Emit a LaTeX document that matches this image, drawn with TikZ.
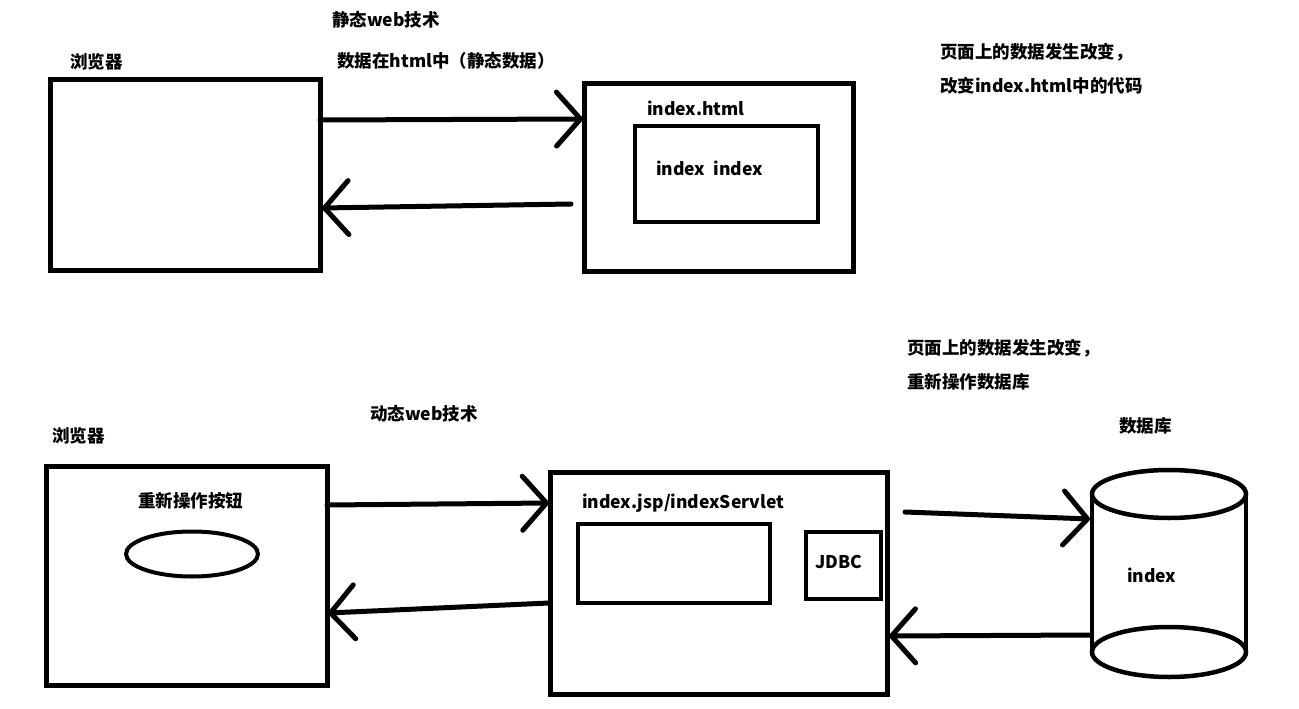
\documentclass[tikz,border=0pt]{standalone}
\usepackage{fontspec}
\setmainfont{Noto Sans CJK SC}
\usetikzlibrary{arrows.meta,shapes.geometric}
\begin{document}
\begin{tikzpicture}[x=1pt,y=-1pt,
  box/.style={draw,line width=5pt,minimum width=#1,inner sep=0pt,outer sep=0pt},
  lbl/.style={anchor=west,inner sep=0pt,font=\fontsize{17.5}{20}\selectfont\bfseries},
  arr/.style={line width=5pt,line cap=round,-{Straight Barb[length=24pt,width=54pt,line width=5pt,round]}}]
\useasboundingbox[fill=white] (0,0) rectangle (1299,709);
% --- static web ---
\node[box=270pt,minimum height=190pt] (b1) at (185,175) {};
\node[box=269pt,minimum height=187pt] (s1) at (718.5,177.5) {};
\node[box=183pt,minimum height=96pt,line width=4.5pt] (s1in) at (726.5,174) {};
\node[lbl] (t1) at (332,20) {静态web技术};
\node[lbl] (t2) at (337,61) {数据在html中（静态数据）};
\node[lbl] (t3) at (70,62) {浏览器};
\node[lbl] (t4) at (647,108) {index.html};
\node[lbl] (t5) at (656,168) {index\ \ index};
\node[lbl] (t6) at (940,52) {页面上的数据发生改变，};
\node[lbl] (t7) at (940,86) {改变index.html中的代码};
\coordinate (a1s) at (320,120); \coordinate (a1e) at (583,119);
\coordinate (a2s) at (571,204); \coordinate (a2e) at (322,208);
\draw[arr] (a1s) -- (a1e);
\draw[arr] (a2s) -- (a2e);
% --- dynamic web ---
\node[lbl] (t8) at (907,348) {页面上的数据发生改变，};
\node[lbl] (t9) at (907,382) {重新操作数据库};
\node[lbl] (t10) at (370,414) {动态web技术};
\node[lbl] (t11) at (52,436) {浏览器};
\node[box=281pt,minimum height=219pt] (b2) at (186.5,575.5) {};
\node[lbl] (t12) at (138,501) {重新操作按钮};
\node[draw,ellipse,line width=4pt,minimum width=132pt,minimum height=45pt,inner sep=0pt] (btn) at (192,554) {};
\node[box=337pt,minimum height=222pt] (s2) at (718.5,583) {};
\node[lbl] (t13) at (582,503) {index.jsp/indexServlet};
\node[box=192pt,minimum height=79pt,line width=4.5pt] (s2in) at (674,563.5) {};
\node[box=75pt,minimum height=67pt,line width=4.5pt] (jdbc) at (843.5,565.5) {};
\node[lbl,anchor=center] (t16) at (839,562) {JDBC};
% database cylinder
\node[lbl] (t14) at (1119,426) {数据库};
\draw[line width=4.5pt] (1169,494) ellipse [x radius=77pt,y radius=24pt];
\draw[line width=4.5pt] (1169,652) ellipse [x radius=77pt,y radius=25pt];
\draw[line width=4.5pt] (1092,494) -- (1092,652) (1246,494) -- (1246,652);
\node[lbl] (t15) at (1127,575) {index};
\coordinate (a3s) at (327,505); \coordinate (a3e) at (549,503);
\coordinate (a4s) at (549,603); \coordinate (a4e) at (328,613);
\coordinate (a5s) at (905,512); \coordinate (a5e) at (1090,519);
\coordinate (a6s) at (1090,635); \coordinate (a6e) at (889,636);
\draw[arr] (a3s) -- (a3e);
\draw[arr] (a4s) -- (a4e);
\draw[arr] (a5s) -- (a5e);
\draw[arr] (a6s) -- (a6e);
\end{tikzpicture}
\end{document}
